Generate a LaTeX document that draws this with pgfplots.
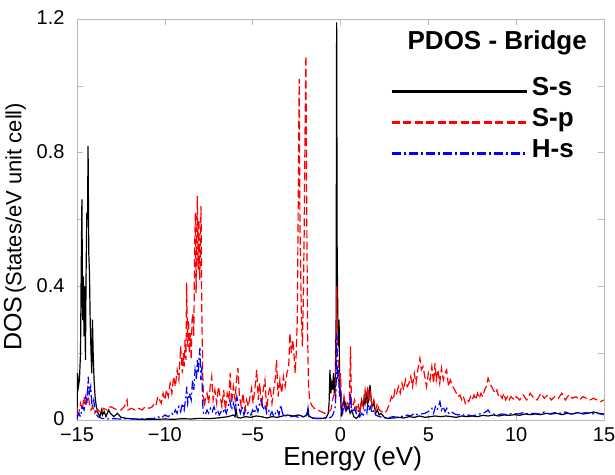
\documentclass[border=0pt]{standalone}
\usepackage{fontspec}
\setmainfont{Liberation Sans}
\usepackage{pgfplots}
\pgfplotsset{compat=1.18}
\usepackage{pgfplotstable}

\pgfplotstableread{
x y
-15.0 0.0
-14.97 0.14
-14.92 0.10
-14.86 0.12
-14.8 0.2
-14.76 0.45
-14.72 0.66
-14.68 0.3
-14.64 0.43
-14.6 0.25
-14.56 0.4
-14.52 0.18
-14.48 0.45
-14.44 0.62
-14.4 0.6
-14.37 0.82
-14.33 0.5
-14.29 0.44
-14.25 0.3
-14.2 0.2
-14.16 0.14
-14.12 0.3
-14.08 0.2
-14.03 0.12
-13.97 0.07
-13.9 0.04
-13.8 0.02
-13.7 0.01
-13.6 0.03
-13.55 0.015
-13.45 0.025
-13.35 0.01
-13.2 0.03
-13.1 0.02
-12.9 0.01
-12.7 0.02
-12.5 0.008
-12.2 0.005
-11.8 0.003
-11.4 0.002
-11.0 0.002
-10.5 0.002
-10.0 0.003
-9.5 0.002
-9.0 0.004
-8.5 0.003
-8.0 0.005
-7.5 0.004
-7.0 0.006
-6.7 0.008
-6.4 0.01
-6.1 0.015
-6.0 0.01
-5.95 0.035
-5.88 0.008
-5.7 0.006
-5.4 0.01
-5.1 0.008
-4.8 0.012
-4.5 0.01
-4.2 0.006
-3.9 0.01
-3.6 0.008
-3.3 0.012
-3.0 0.015
-2.7 0.012
-2.4 0.015
-2.1 0.01
-1.9 0.015
-1.85 0.035
-1.8 0.012
-1.6 0.006
-1.3 0.004
-1.0 0.005
-0.8 0.008
-0.7 0.02
-0.65 0.05
-0.6 0.15
-0.55 0.08
-0.5 0.11
-0.45 0.09
-0.4 0.14
-0.35 0.08
-0.3 0.1
-0.25 0.3
-0.22 1.19
-0.19 0.5
-0.15 0.3
-0.11 0.22
-0.08 0.3
-0.05 0.1
0.0 0.08
0.05 0.01
0.1 0.03
0.15 0.05
0.2 0.06
0.25 0.04
0.3 0.05
0.35 0.03
0.45 0.04
0.55 0.02
0.65 0.03
0.75 0.01
0.9 0.005
1.0 0.01
1.1 0.02
1.2 0.06
1.3 0.04
1.35 0.07
1.4 0.05
1.5 0.08
1.55 0.05
1.62 0.06
1.68 0.105
1.75 0.06
1.8 0.04
1.9 0.05
2.0 0.02
2.1 0.03
2.2 0.015
2.3 0.02
2.5 0.008
2.7 0.005
3.0 0.006
3.3 0.008
3.6 0.006
3.9 0.01
4.2 0.008
4.5 0.012
4.8 0.008
5.1 0.01
5.4 0.012
5.7 0.01
6.0 0.012
6.3 0.01
6.6 0.008
6.9 0.012
7.2 0.01
7.5 0.012
7.8 0.01
8.1 0.014
8.4 0.012
8.7 0.015
9.0 0.012
9.3 0.015
9.6 0.014
9.9 0.016
10.2 0.014
10.5 0.018
10.8 0.016
11.1 0.018
11.4 0.016
11.7 0.02
12.0 0.018
12.3 0.02
12.6 0.016
12.9 0.02
13.2 0.018
13.5 0.022
13.8 0.018
14.1 0.02
14.4 0.024
14.7 0.02
15.0 0.018
}\Ss

\pgfplotstableread{
x y
-15.0 0.01
-14.9 0.02
-14.8 0.05
-14.7 0.03
-14.6 0.07
-14.5 0.04
-14.4 0.09
-14.3 0.05
-14.2 0.03
-14.1 0.04
-14.0 0.02
-13.8 0.03
-13.6 0.02
-13.5 0.035
-13.3 0.03
-13.1 0.04
-12.9 0.035
-12.7 0.03
-12.5 0.03
-12.3 0.04
-12.15 0.06
-12.1 0.03
-11.9 0.035
-11.7 0.03
-11.5 0.035
-11.3 0.03
-11.1 0.04
-10.9 0.035
-10.7 0.04
-10.6 0.05
-10.5 0.045
-10.4 0.07
-10.3 0.06
-10.2 0.05
-10.1 0.08
-10.0 0.06
-9.9 0.09
-9.8 0.07
-9.7 0.11
-9.6 0.08
-9.5 0.13
-9.4 0.10
-9.3 0.15
-9.2 0.12
-9.1 0.22
-9.0 0.14
-8.95 0.2
-8.9 0.16
-8.85 0.24
-8.8 0.18
-8.76 0.41
-8.7 0.22
-8.65 0.30
-8.6 0.2
-8.55 0.26
-8.5 0.18
-8.45 0.3
-8.4 0.32
-8.35 0.25
-8.3 0.52
-8.26 0.62
-8.22 0.38
-8.18 0.55
-8.15 0.67
-8.1 0.45
-8.06 0.6
-8.02 0.42
-7.98 0.5
-7.94 0.64
-7.9 0.35
-7.85 0.15
-7.8 0.07
-7.75 0.04
-7.7 0.06
-7.6 0.08
-7.5 0.05
-7.42 0.1
-7.33 0.13
-7.25 0.06
-7.15 0.09
-7.05 0.05
-6.95 0.1
-6.85 0.07
-6.75 0.04
-6.65 0.09
-6.55 0.03
-6.45 0.08
-6.35 0.06
-6.28 0.14
-6.2 0.05
-6.1 0.1
-6.0 0.06
-5.92 0.12
-5.84 0.155
-5.75 0.07
-5.65 0.04
-5.55 0.08
-5.45 0.03
-5.35 0.06
-5.25 0.04
-5.15 0.07
-5.06 0.095
-4.98 0.05
-4.9 0.08
-4.77 0.15
-4.68 0.06
-4.6 0.11
-4.5 0.04
-4.4 0.09
-4.3 0.12
-4.2 0.03
-4.1 0.08
-4.0 0.1
-3.9 0.05
-3.8 0.09
-3.7 0.13
-3.64 0.18
-3.55 0.07
-3.45 0.12
-3.35 0.08
-3.25 0.13
-3.15 0.1
-3.05 0.14
-2.95 0.16
-2.88 0.26
-2.8 0.2
-2.72 0.24
-2.65 0.2
-2.58 0.14
-2.52 0.2
-2.46 0.3
-2.42 0.55
-2.38 0.85
-2.35 1.02
-2.31 0.6
-2.27 0.45
-2.22 0.3
-2.17 0.22
-2.12 0.35
-2.07 0.55
-2.02 0.85
-1.97 1.09
-1.92 0.6
-1.87 0.25
-1.82 0.1
-1.75 0.06
-1.65 0.045
-1.5 0.035
-1.3 0.03
-1.1 0.025
-0.9 0.02
-0.7 0.025
-0.55 0.03
-0.45 0.06
-0.35 0.08
-0.28 0.07
-0.22 0.40
-0.18 0.2
-0.12 0.18
-0.06 0.1
0.0 0.14
0.05 0.06
0.12 0.04
0.2 0.07
0.3 0.03
0.4 0.05
0.5 0.04
0.57 0.22
0.62 0.05
0.7 0.04
0.8 0.06
0.9 0.03
1.0 0.05
1.1 0.02
1.2 0.06
1.3 0.04
1.4 0.09
1.5 0.05
1.56 0.1
1.62 0.06
1.7 0.08
1.8 0.04
1.9 0.06
2.0 0.03
2.1 0.05
2.2 0.03
2.35 0.025
2.5 0.02
2.65 0.03
2.8 0.05
2.9 0.07
3.0 0.06
3.1 0.09
3.2 0.08
3.3 0.1
3.4 0.08
3.5 0.11
3.6 0.09
3.7 0.12
3.8 0.1
3.9 0.11
4.0 0.13
4.1 0.1
4.2 0.14
4.3 0.11
4.4 0.15
4.52 0.185
4.6 0.15
4.7 0.16
4.8 0.13
4.9 0.1
5.0 0.14
5.1 0.12
5.2 0.16
5.3 0.11
5.38 0.17
5.45 0.12
5.55 0.15
5.65 0.11
5.75 0.155
5.85 0.12
5.95 0.14
6.04 0.15
6.15 0.1
6.25 0.12
6.4 0.1
6.5 0.09
6.6 0.08
6.7 0.07
6.8 0.075
6.9 0.06
7.0 0.07
7.1 0.05
7.2 0.06
7.3 0.055
7.4 0.07
7.5 0.06
7.6 0.075
7.7 0.06
7.8 0.08
7.9 0.065
8.0 0.08
8.1 0.07
8.2 0.09
8.3 0.1
8.4 0.125
8.5 0.11
8.6 0.1
8.7 0.09
8.8 0.08
8.9 0.09
9.0 0.07
9.1 0.075
9.2 0.065
9.3 0.08
9.4 0.06
9.5 0.07
9.6 0.06
9.7 0.07
9.8 0.065
9.9 0.06
10.0 0.07
10.2 0.06
10.4 0.075
10.6 0.06
10.8 0.08
11.0 0.065
11.2 0.06
11.4 0.08
11.6 0.065
11.8 0.075
12.0 0.06
12.2 0.07
12.4 0.065
12.6 0.08
12.8 0.06
13.0 0.075
13.2 0.065
13.4 0.07
13.6 0.06
13.8 0.07
14.0 0.065
14.2 0.06
14.4 0.065
14.6 0.06
14.8 0.055
15.0 0.06
}\Sp

\pgfplotstableread{
x y
-15.0 0.005
-14.9 0.02
-14.8 0.01
-14.7 0.04
-14.6 0.03
-14.5 0.07
-14.42 0.05
-14.36 0.13
-14.3 0.08
-14.22 0.1
-14.15 0.04
-14.05 0.06
-13.95 0.02
-13.8 0.01
-13.6 0.005
-13.3 0.003
-13.0 0.004
-12.5 0.003
-12.0 0.004
-11.5 0.003
-11.0 0.004
-10.6 0.005
-10.4 0.01
-10.2 0.006
-10.0 0.015
-9.8 0.01
-9.6 0.02
-9.5 0.015
-9.4 0.03
-9.3 0.02
-9.2 0.04
-9.1 0.025
-9.0 0.05
-8.9 0.03
-8.8 0.07
-8.75 0.1
-8.7 0.05
-8.6 0.08
-8.5 0.06
-8.42 0.12
-8.35 0.09
-8.28 0.15
-8.2 0.12
-8.15 0.18
-8.1 0.14
-8.05 0.19
-8.0 0.215
-7.95 0.12
-7.9 0.16
-7.85 0.05
-7.8 0.02
-7.7 0.015
-7.6 0.03
-7.5 0.02
-7.4 0.035
-7.3 0.025
-7.2 0.04
-7.1 0.02
-7.0 0.03
-6.9 0.015
-6.8 0.025
-6.7 0.02
-6.6 0.035
-6.5 0.02
-6.4 0.04
-6.3 0.06
-6.2 0.03
-6.1 0.05
-6.0 0.03
-5.9 0.07
-5.8 0.04
-5.7 0.02
-5.6 0.04
-5.5 0.015
-5.4 0.03
-5.3 0.02
-5.2 0.025
-5.1 0.015
-5.0 0.03
-4.9 0.02
-4.8 0.04
-4.7 0.025
-4.6 0.05
-4.5 0.06
-4.4 0.03
-4.3 0.045
-4.2 0.02
-4.1 0.03
-4.0 0.015
-3.9 0.025
-3.8 0.01
-3.7 0.02
-3.6 0.03
-3.5 0.015
-3.4 0.045
-3.3 0.02
-3.2 0.01
-3.0 0.015
-2.8 0.01
-2.6 0.012
-2.4 0.008
-2.2 0.01
-2.0 0.008
-1.85 0.03
-1.8 0.01
-1.6 0.006
-1.3 0.005
-1.0 0.006
-0.7 0.005
-0.5 0.01
-0.4 0.02
-0.3 0.04
-0.25 0.1
-0.22 0.26
-0.18 0.12
-0.12 0.15
-0.06 0.07
0.0 0.1
0.05 0.03
0.12 0.02
0.2 0.05
0.3 0.03
0.4 0.04
0.5 0.03
0.57 0.08
0.62 0.03
0.7 0.02
0.8 0.035
0.9 0.02
1.0 0.03
1.1 0.01
1.2 0.02
1.3 0.015
1.4 0.03
1.5 0.02
1.56 0.05
1.62 0.03
1.7 0.04
1.8 0.02
1.9 0.03
2.0 0.015
2.2 0.01
2.4 0.008
2.6 0.005
2.8 0.008
3.0 0.01
3.2 0.008
3.4 0.012
3.6 0.01
3.8 0.015
4.0 0.012
4.2 0.02
4.4 0.015
4.6 0.018
4.8 0.02
5.0 0.025
5.2 0.035
5.3 0.02
5.4 0.04
5.5 0.03
5.6 0.045
5.66 0.055
5.75 0.03
5.85 0.04
5.95 0.025
6.05 0.035
6.15 0.02
6.3 0.025
6.5 0.018
6.7 0.015
6.9 0.018
7.1 0.012
7.3 0.015
7.5 0.012
7.7 0.015
7.9 0.018
8.1 0.02
8.3 0.025
8.4 0.03
8.5 0.022
8.7 0.018
8.9 0.015
9.2 0.018
9.5 0.016
9.8 0.02
10.1 0.018
10.4 0.022
10.7 0.018
11.0 0.02
11.3 0.018
11.6 0.024
11.9 0.018
12.2 0.022
12.5 0.02
12.8 0.024
13.1 0.018
13.4 0.022
13.7 0.02
14.0 0.022
14.3 0.018
14.6 0.02
15.0 0.016
}\Hs

\begin{document}
\begin{tikzpicture}
\begin{axis}[
  scale only axis, width=527pt, height=401pt,
  xmin=-15, xmax=15, ymin=0, ymax=1.2,
  xtick={-15,-10,-5,0,5,10,15},
  xticklabels={−15,−10,−5,0,5,10,15},
  ytick={0,0.2,0.4,0.6,0.8,1.0,1.2},
  yticklabels={0,,0.4,,0.8,,1.2},
  axis line style={gray!55, line width=0.6pt},
  tick style={gray!55, line width=0.6pt},
  major tick length=6pt,
  ticklabel style={font=\fontsize{20}{24}\selectfont},
  yticklabel style={xshift=-9pt, yshift=1pt},
  xticklabel style={yshift=-4pt},
  xlabel={Energy (eV)},
  xlabel style={font=\fontsize{26}{30}\selectfont, at={(axis description cs:0.523,-0.097)}, anchor=center},
  ylabel={{\fontsize{25}{28}\selectfont DOS} {\fontsize{22}{25}\selectfont(States/eV unit cell)}},
  ylabel style={at={(axis description cs:-0.118,0.482)}, anchor=center},
  legend style={at={(rel axis cs:1,1)}, anchor=north east, xshift=-26pt, yshift=-57pt,
    draw=none, fill=none, font=\fontsize{26}{31}\selectfont\bfseries,
    row sep=0pt, inner sep=0pt,
    nodes={inner xsep=4pt, inner ysep=0pt, text height=19pt, text depth=12pt}},
  legend cell align=left,
  legend image code/.code={\draw[#1, line width=2.4pt] (0pt,0pt) -- (135pt,0pt);},
]
\addplot[black, line width=1.2pt] table[x=x,y=y] {\Ss};
\addlegendentry{S-s}
\addplot[red, line width=1.2pt, dash pattern=on 8pt off 3.5pt] table[x=x,y=y] {\Sp};
\addlegendentry{S-p}
\addplot[blue, line width=1.2pt, dash pattern=on 9pt off 3pt on 2pt off 3pt] table[x=x,y=y] {\Hs};
\addlegendentry{H-s}
\node[anchor=base east, inner sep=0pt, font=\fontsize{26}{31}\selectfont\bfseries] at (rel axis cs:0.9677,0.9227) {PDOS - Bridge};
\end{axis}
\pgfresetboundingbox
\path (current axis.south west) ++(-77pt,-54pt) rectangle ++(615pt,474pt);
\end{tikzpicture}
\end{document}
